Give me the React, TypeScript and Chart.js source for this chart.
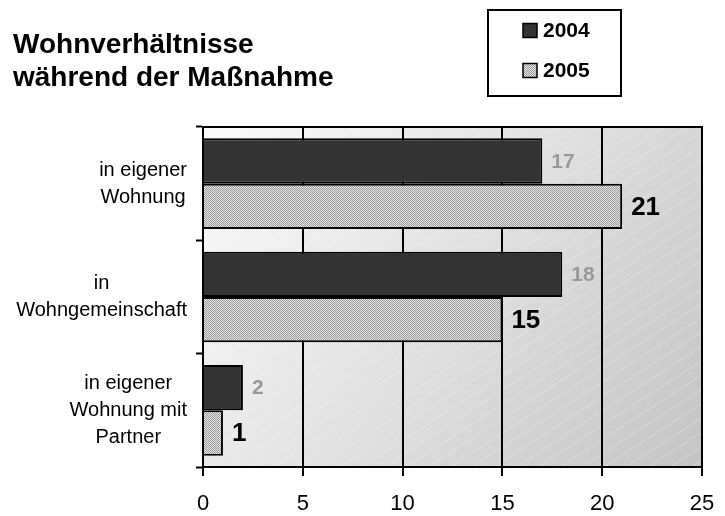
import React, { useEffect, useRef } from "react";
import { Chart, registerables } from "chart.js";
Chart.register(...registerables);

const categories: string[][] = [
  ["in eigener", "Wohnung"],
  ["in", "Wohngemeinschaft"],
  ["in eigener", "Wohnung mit", "Partner"],
];
const seriesNames = ["2004", "2005"];
const values2004 = [17, 18, 2];
const values2005 = [21, 15, 1];
const xTicks = [0, 5, 10, 15, 20, 25];
const titleLines = ["Wohnverhältnisse", "während der Maßnahme"];

const FONT = '"Liberation Sans", Arial, Helvetica, sans-serif';

export default function App() {
  const ref = useRef<HTMLCanvasElement>(null);

  useEffect(() => {
    document.body.style.margin = "0";
    const canvas = ref.current!;
    const ctx0 = canvas.getContext("2d")!;
    const pc = document.createElement("canvas");
    pc.width = 2;
    pc.height = 2;
    const pg = pc.getContext("2d")!;
    pg.fillStyle = "#e4e4e4";
    pg.fillRect(0, 0, 2, 2);
    pg.fillStyle = "#9c9c9c";
    pg.fillRect(0, 0, 1, 1);
    pg.fillRect(1, 1, 1, 1);
    const pattern = ctx0.createPattern(pc, "repeat")!;
    const fills = ["#333333", pattern];

    const deco = {
      id: "deco",
      beforeDraw(chart: any) {
        const { ctx, chartArea: a } = chart;
        ctx.save();
        const grad = ctx.createLinearGradient(a.left, a.top, a.right, a.bottom);
        grad.addColorStop(0, "#fbfbfb");
        grad.addColorStop(1, "#c4c4c4");
        ctx.fillStyle = grad;
        ctx.fillRect(a.left, a.top, a.right - a.left, a.bottom - a.top);
        ctx.beginPath();
        ctx.rect(a.left, a.top, a.right - a.left, a.bottom - a.top);
        ctx.clip();
        ctx.strokeStyle = "rgba(255,255,255,0.3)";
        ctx.lineWidth = 1;
        const h = a.bottom - a.top;
        const run = h / 0.65;
        for (let x = a.left - run; x < a.right; x += 22) {
          ctx.beginPath();
          ctx.moveTo(x, a.bottom);
          ctx.lineTo(x + run, a.top);
          ctx.stroke();
        }
        ctx.restore();
      },
      afterDatasetsDraw(chart: any) {
        const { ctx } = chart;
        ctx.save();
        chart.data.datasets.forEach((ds: any, di: number) => {
          const meta = chart.getDatasetMeta(di);
          ctx.font = di === 0 ? `bold 21px ${FONT}` : `bold 26px ${FONT}`;
          ctx.fillStyle = di === 0 ? "#999999" : "#000000";
          ctx.textAlign = "left";
          ctx.textBaseline = "middle";
          meta.data.forEach((bar: any, i: number) => {
            ctx.fillText(String(ds.data[i]), bar.x + 9, bar.y + 1);
          });
        });
        ctx.restore();
      },
      afterDraw(chart: any) {
        const { ctx, chartArea: a } = chart;
        ctx.save();
        // top frame line
        ctx.strokeStyle = "#000";
        ctx.lineWidth = 2;
        ctx.beginPath();
        ctx.moveTo(a.left - 1, a.top);
        ctx.lineTo(a.right + 1, a.top);
        ctx.stroke();

        // category labels
        const yScale = chart.scales.y;
        ctx.font = `20px ${FONT}`;
        ctx.fillStyle = "#000";
        ctx.textAlign = "center";
        ctx.textBaseline = "middle";
        const lh = 27;
        categories.forEach((lines, i) => {
          const y = yScale.getPixelForValue(i);
          const widest = Math.max(...lines.map((l) => ctx.measureText(l).width));
          const cx = 187 - widest / 2;
          const y0 = y - ((lines.length - 1) * lh) / 2;
          lines.forEach((l, k) => ctx.fillText(l, cx, y0 + k * lh));
        });

        // title
        ctx.font = `bold 28px ${FONT}`;
        ctx.textAlign = "left";
        ctx.textBaseline = "alphabetic";
        titleLines.forEach((t, k) => ctx.fillText(t, 13, 53 + k * 33));

        // legend
        ctx.lineWidth = 2;
        ctx.strokeStyle = "#000";
        ctx.strokeRect(488, 10, 133, 86);
        ctx.font = `bold 21px ${FONT}`;
        ctx.textBaseline = "middle";
        seriesNames.forEach((n, k) => {
          const cy = 30.5 + k * 40;
          ctx.fillStyle = fills[k] as any;
          ctx.fillRect(523, cy - 7, 14, 14);
          ctx.lineWidth = 1.5;
          ctx.strokeRect(523, cy - 7, 14, 14);
          ctx.fillStyle = "#000";
          ctx.fillText(n, 543, cy + 1);
        });
        ctx.restore();
      },
    };

    const chart = new Chart(canvas, {
      type: "bar",
      data: {
        labels: categories.map((c) => c.join(" ")),
        datasets: [
          {
            label: seriesNames[0],
            data: values2004,
            backgroundColor: fills[0] as any,
            borderColor: "#000",
            borderWidth: 2,
            categoryPercentage: 0.8,
            barPercentage: 1.0,
          },
          {
            label: seriesNames[1],
            data: values2005,
            backgroundColor: fills[1] as any,
            borderColor: "#000",
            borderWidth: 2,
            categoryPercentage: 0.8,
            barPercentage: 1.0,
          },
        ],
      },
      options: {
        indexAxis: "y",
        responsive: false,
        animation: false,
        layout: { padding: { top: 127, right: 23, left: 0, bottom: 0 } },
        plugins: { legend: { display: false }, tooltip: { enabled: false }, title: { display: false } },
        scales: {
          x: {
            min: xTicks[0],
            max: xTicks[xTicks.length - 1],
            ticks: {
              stepSize: xTicks[1] - xTicks[0],
              color: "#000",
              font: { family: FONT, size: 22 },
              padding: 15,
            },
            grid: {
              color: "#000",
              lineWidth: 2,
              tickLength: 9,
              tickColor: "#000",
              tickWidth: 2,
              drawOnChartArea: true,
            },
            border: { display: true, color: "#000", width: 2 },
            afterFit(scale: any) {
              scale.height = 49;
              scale.paddingRight = 0;
              scale.paddingLeft = 0;
            },
          },
          y: {
            ticks: { display: false },
            grid: {
              drawOnChartArea: false,
              tickLength: 7,
              tickColor: "#000",
              tickWidth: 2,
              offset: true,
            },
            border: { display: true, color: "#000", width: 2 },
            afterFit(scale: any) {
              scale.width = 203;
              scale.paddingTop = 0;
              scale.paddingBottom = 0;
            },
          },
        },
      },
      plugins: [deco],
    });
    return () => chart.destroy();
  }, []);

  return (
    <div style={{ width: 725, height: 516, background: "#fff" }}>
      <canvas ref={ref} width={725} height={516} style={{ display: "block" }} />
    </div>
  );
}
